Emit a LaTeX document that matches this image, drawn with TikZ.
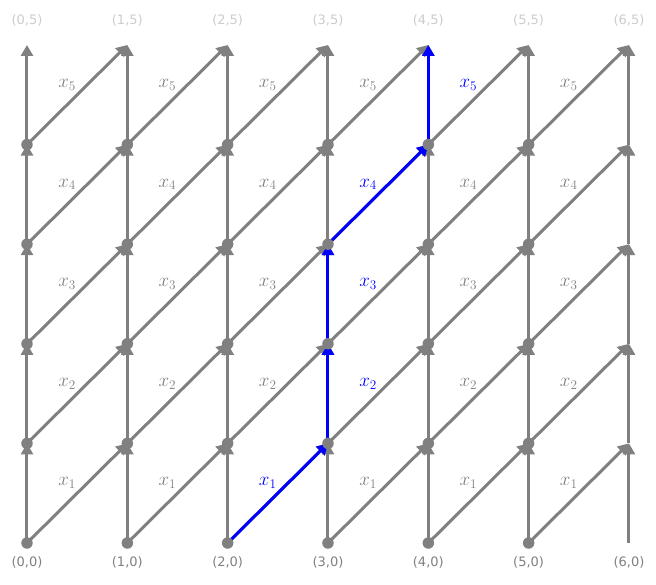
\documentclass[tikz,border=0pt]{standalone}
\usepackage{fontspec}
\setsansfont{DejaVu Sans}
\usetikzlibrary{arrows.meta}
\definecolor{edgegray}{HTML}{808080}
\definecolor{toplbl}{HTML}{CCCCCC}
\begin{document}
\begin{tikzpicture}[x=100.33pt,y=99.6pt,
  edge/.style={draw=edgegray, line width=3pt, -{Triangle[length=11pt,width=12pt]}},
  pathedge/.style={edge, draw=blue},
  dot/.style={circle, fill=edgegray, inner sep=0pt, minimum size=11.5pt},
  lbl/.style={font=\LARGE, inner sep=0pt, scale=1.1},
  coordlbl/.style={font=\sffamily\fontsize{13}{15}\selectfont, inner sep=0pt}]
\useasboundingbox (-27pt,-41pt) rectangle (629pt,543pt);
% grid points
\foreach \i in {0,...,6} {
  \foreach \j in {0,...,5} {
    \coordinate (n\i\j) at (\i,\j);
  }
}
% grey edges
\foreach \i in {0,...,6} {
  \foreach \j in {0,...,4} {
    \pgfmathtruncatemacro\jj{\j+1}
    \draw[edge] (n\i\j) -- (n\i\jj);
  }
}
\foreach \i in {0,...,5} {
  \foreach \j in {0,...,4} {
    \pgfmathtruncatemacro\jj{\j+1}
    \pgfmathtruncatemacro\ii{\i+1}
    \draw[edge] (n\i\j) -- (n\ii\jj);
  }
}
% blue path
\draw[pathedge] (n20) -- (n31);
\draw[pathedge] (n31) -- (n32);
\draw[pathedge] (n32) -- (n33);
\draw[pathedge] (n33) -- (n44);
\draw[pathedge] (n44) -- (n45);
% dots
\foreach \i in {0,...,5} {
  \foreach \j in {0,...,4} {
    \node[dot] (d\i\j) at (n\i\j) {};
  }
}
% edge labels
\foreach \i in {0,...,5} {
  \foreach \j in {0,...,4} {
    \pgfmathtruncatemacro\isblue{((\i==2) && (\j==0)) || ((\i==3) && (\j>0) && (\j<4)) || ((\i==4) && (\j==4))}
    \pgfmathtruncatemacro\k{\j+1}
    \ifnum\isblue=1 \def\lc{blue}\else\def\lc{edgegray}\fi
    \node[lbl, text=\lc] (l\i\j) at (\i+0.4,\j+0.6) {$x_{\k}$};
  }
}
% coordinate labels
\foreach \i in {0,...,6} {
  \node[coordlbl, text=edgegray] (b\i) at ([yshift=-19.5pt]n\i0) {(\i,0)};
  \node[coordlbl, text=toplbl] (t\i) at ([yshift=24.5pt]n\i5) {(\i,5)};
}
\end{tikzpicture}
\end{document}
